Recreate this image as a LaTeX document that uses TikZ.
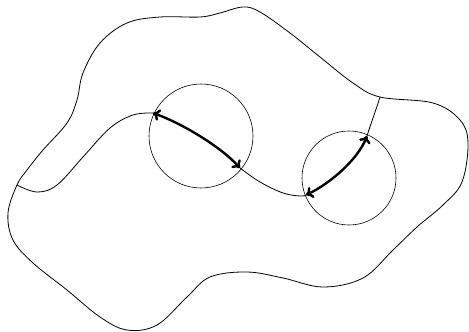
\documentclass[tikz,border=0pt]{standalone}
\usetikzlibrary{arrows.meta}

\begin{document}
\begin{tikzpicture}[x=1pt, y=-1pt,
    boundary/.style={line width=0.8pt},
    ball/.style={draw, circle, line width=0.6pt, inner sep=0pt},
    geodesic/.style={line width=2.4pt, {To[length=7pt,width=12pt]}-{To[length=7pt,width=12pt]}}]
  \useasboundingbox (0,0) rectangle (469,332);

  % Region
  \draw[boundary] plot[smooth cycle, tension=0.6] coordinates {
    (17,185) (8,213) (13,240) (33,263) (67,290) (100,317) (127,330)
    (157,325) (187,297) (210,277) (247,272) (283,278) (323,287)
    (363,278) (393,250) (417,227) (443,205) (462,182) (468,143)
    (460,120) (433,103) (380,97) (353,83) (320,57) (290,33) (260,12)
    (243,7) (220,13) (200,17) (160,17) (127,23) (100,43) (83,73)
    (77,100) (67,123) (43,150) (27,170)};

  % Balls
  \node[ball, minimum size=104pt] (ballA) at (201,136) {};
  \node[ball, minimum size=94pt] (ballB) at (349,178) {};

  % Points on the curve
  \coordinate (p1) at (153,113);
  \coordinate (p2) at (240,168);
  \coordinate (p3) at (306,195);
  \coordinate (p4) at (367,136);
  \coordinate (p5) at (380,97);

  % Curve through the region
  \draw[boundary] plot[smooth, tension=0.6] coordinates {
    (17,185) (37,192) (57,185) (83,157) (110,128) (133,115) (153,113)};
  \draw[boundary] plot[smooth, tension=0.6] coordinates {
    (240,168) (260,182) (283,193) (300,196) (306,195)};
  \draw[boundary] (p4) .. controls (371,123) and (376,110) .. (p5);

  % Arrows
  \draw[geodesic] (p1) .. controls (181,123) and (220,146) .. (p2);
  \draw[geodesic] (p3) .. controls (331,183) and (358,159) .. (p4);
\end{tikzpicture}
\end{document}
